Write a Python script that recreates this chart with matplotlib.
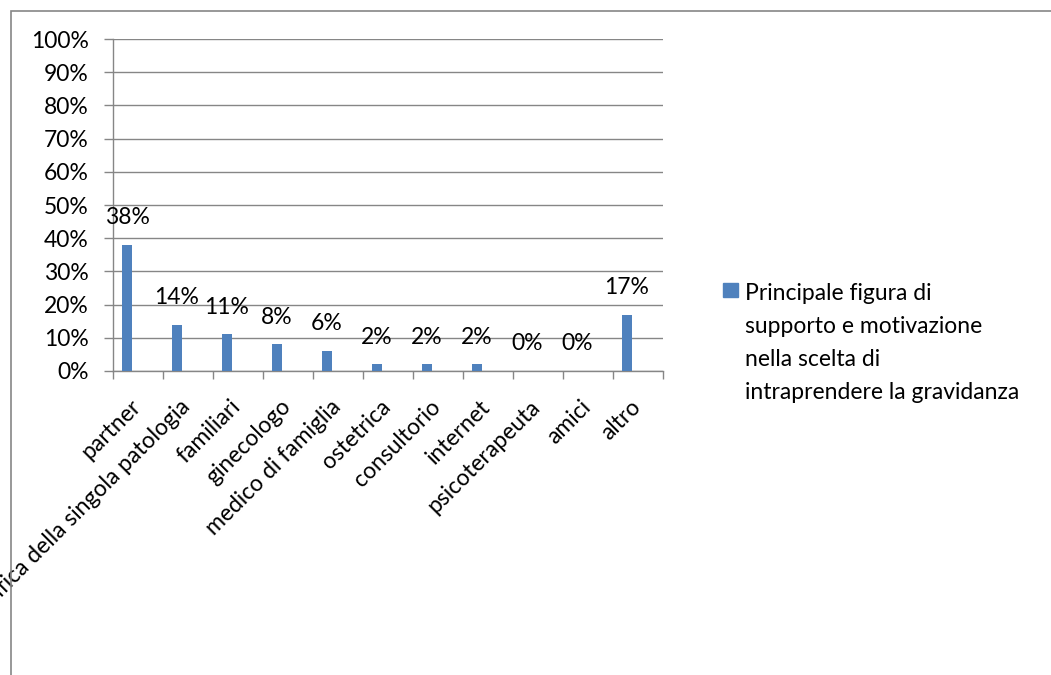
import matplotlib.pyplot as plt
import matplotlib.transforms as mtransforms
import numpy as np
from matplotlib.patches import Rectangle

plt.rcParams['font.family'] = ['Lato', 'DejaVu Sans']

categories = ['partner', 'associazione specifica della singola patologia',
              'familiari', 'ginecologo', 'medico di famiglia', 'ostetrica',
              'consultorio', 'internet', 'psicoterapeuta', 'amici', 'altro']
values = [38, 14, 11, 8, 6, 2, 2, 2, 0, 0, 17]
series_name = ('Principale figura di\nsupporto e motivazione\n'
               'nella scelta di\nintraprendere la gravidanza')

BAR_COLOR = '#4F81BD'
GRID_COLOR = '#868686'
FS = 16.5
W, H = 1051, 675

fig = plt.figure(figsize=(W / 100, H / 100), dpi=100)
ax = fig.add_axes([113 / W, 1 - 371 / H, 550 / W, 332 / H])

x = np.arange(len(categories))
# bars sit left of the category centre, as in the original Excel layout
bx = x - 0.22
ax.bar(bx, values, width=0.21, color=BAR_COLOR, zorder=3)

for xi, v in zip(bx, values):
    ax.text(xi, v + 8.2, f'{v}%', ha='center', va='center', fontsize=FS, zorder=4)

ax.set_xlim(-0.5, len(categories) - 0.5)
ax.set_ylim(0, 100)
ax.set_yticks(np.arange(0, 101, 10))
ax.set_yticklabels([f'{t}%' for t in range(0, 101, 10)], fontsize=FS)
ax.yaxis.grid(True, color=GRID_COLOR, linewidth=1, zorder=0)

# category labels placed by hand so they can sit a bit down-left of the centre
ax.set_xticks([])
ax.set_xticks(np.arange(-0.5, len(categories), 1), minor=True)
ax.tick_params(axis='x', which='minor', length=6, color=GRID_COLOR, width=1)
shift = mtransforms.ScaledTranslation(-6 / 72, -18 / 72, fig.dpi_scale_trans)
for xi, cat in zip(x, categories):
    ax.text(xi, 0, cat, transform=ax.get_xaxis_transform() + shift,
            rotation=45, rotation_mode='anchor', ha='right', va='top',
            fontsize=FS, clip_on=False)

ax.tick_params(axis='y', length=6.5, color=GRID_COLOR, width=1, pad=11)

for side in ['top', 'right']:
    ax.spines[side].set_visible(False)
for side in ['left', 'bottom']:
    ax.spines[side].set_color(GRID_COLOR)
    ax.spines[side].set_linewidth(1)

# legend drawn by hand: marker aligned with the first line of text
fig.add_artist(Rectangle((723 / W, 1 - 297 / H), 15 / W, 14 / H,
                         transform=fig.transFigure, color=BAR_COLOR))
for i, line in enumerate(series_name.split('\n')):
    fig.text(745 / W, 1 - (300 + 33 * i) / H, line, ha='left', va='baseline',
             fontsize=FS)

# outer chart frame (only top and left edges are visible)
fig.add_artist(Rectangle((11 / W, -0.1), 1.2, 1.1 - 11 / H,
                         transform=fig.transFigure, fill=False,
                         edgecolor=GRID_COLOR, linewidth=1.2))

fig.savefig('out.png', dpi=100)
